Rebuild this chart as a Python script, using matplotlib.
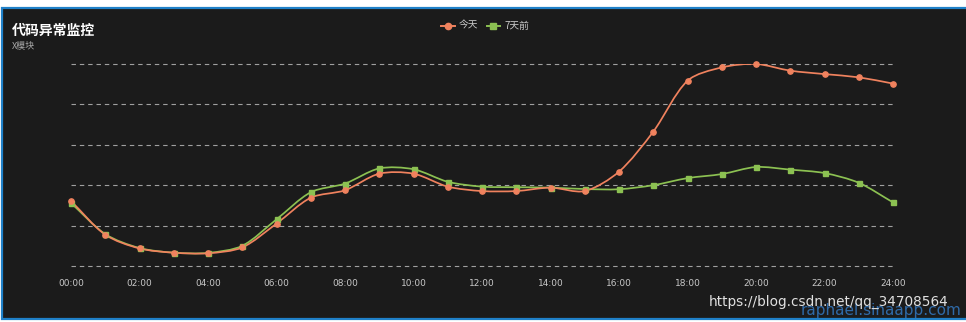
import numpy as np
import matplotlib
matplotlib.use("Agg")
import matplotlib.pyplot as plt
from matplotlib.path import Path
from matplotlib.patches import PathPatch, Rectangle
from matplotlib.lines import Line2D

plt.rcParams['font.family'] = ['Noto Sans CJK SC', 'DejaVu Sans']

# hourly values (no y labels in the original, 0-100 scale)
hours = list(range(25))
tick_hours = list(range(0, 25, 2))
tick_labels = ["%02d:00" % h for h in tick_hours]
today = [32.2, 15.5, 8.7, 6.6, 6.3, 9.2, 21.0, 33.8, 37.5, 45.7, 45.7, 39.3, 37.1,
         37.1, 38.8, 37.1, 46.7, 66.5, 91.7, 98.3, 100.0, 96.7, 95.0, 93.4, 90.3]
week_ago = [31.2, 15.8, 8.9, 6.6, 6.5, 10.0, 23.1, 36.5, 40.8, 48.3, 47.9, 41.7, 39.3,
            39.0, 38.8, 38.1, 38.0, 40.0, 43.5, 45.5, 49.0, 47.7, 46.0, 41.2, 31.5]
series_names = ["今天", "7天前"]

BG = "#1b1b1b"
RED = "#f0825e"
GREEN = "#8cc152"


def smooth_path(x, y, sx, sy, smooth=0.3):
    # bezier through the points, control points like echarts' smooth line
    px = np.asarray(x, float) * sx
    py = np.asarray(y, float) * sy
    n = len(px)
    verts = [(x[0], y[0])]
    codes = [Path.MOVETO]
    for i in range(n - 1):
        c = []
        for j, sign in ((i, 1), (i + 1, -1)):
            prev = max(j - 1, 0)
            nxt = min(j + 1, n - 1)
            vx, vy = px[nxt] - px[prev], py[nxt] - py[prev]
            d0 = np.hypot(px[j] - px[prev], py[j] - py[prev])
            d1 = np.hypot(px[nxt] - px[j], py[nxt] - py[j])
            if sign == 1:
                r = d1 / (d0 + d1) if d0 + d1 else 0
            else:
                r = d0 / (d0 + d1) if d0 + d1 else 0
            cx = px[j] + sign * vx * smooth * r
            cy = py[j] + sign * vy * smooth * r
            c.append((cx / sx, cy / sy))
        verts += [c[0], c[1], (x[i + 1], y[i + 1])]
        codes += [Path.CURVE4] * 3
    return Path(verts, codes)


fig = plt.figure(figsize=(9.66, 3.22), dpi=100, facecolor="white")

# dark panel with the blue border
fig.patches.append(Rectangle((1.5 / 966, 3.5 / 322), 1.2, 310.5 / 322,
                             transform=fig.transFigure, facecolor=BG,
                             edgecolor="#1f80c8", linewidth=1.6, zorder=-10))

ax = fig.add_axes([71 / 966, 1 - 266 / 322, 822 / 966, 202 / 322])
ax.set_zorder(2)
ax.set_facecolor("none")
ax.set_xlim(0, 24)
ax.set_ylim(0, 100)
for s in ax.spines.values():
    s.set_visible(False)
ax.set_yticks([])
for gy in range(0, 101, 20):
    ax.axhline(gy, color="#a0a0a0", lw=0.8, ls=(0, (4, 3.5)), zorder=1, clip_on=False)
ax.set_xticks(tick_hours)
ax.set_xticklabels(tick_labels, fontsize=6.5, color="#c8c8c8", family="DejaVu Sans")
ax.tick_params(axis="x", length=0, pad=9)

sx, sy = 822 / 24, 202 / 100
for vals, col, mk, ms in ((week_ago, GREEN, "s", 3.6), (today, RED, "o", 3.8)):
    ax.add_patch(PathPatch(smooth_path(hours, vals, sx, sy), fill=False,
                           edgecolor=col, lw=1.25, zorder=3))
    ax.plot(hours, vals, ls="none", marker=mk, ms=ms, color=col, zorder=4, clip_on=False)

fig.text(12 / 966, 1 - 31 / 322, "代码异常监控", fontsize=10, fontweight="bold",
         color="white", va="center", ha="left")
fig.text(12 / 966, 1 - 47 / 322, "X模块", fontsize=6.5, color="#aaaaaa",
         va="center", ha="left")

handles = [Line2D([], [], color=RED, marker="o", ms=4.5, lw=1.4),
           Line2D([], [], color=GREEN, marker="s", ms=4.2, lw=1.4)]
fig.legend(handles, series_names, loc="center", bbox_to_anchor=(485 / 966, 1 - 26 / 322),
           ncol=2, frameon=False, fontsize=7, labelcolor="#cccccc",
           handlelength=1.4, handletextpad=0.4, columnspacing=0.9)

fig.text(948 / 966, 1 - 302 / 322, "https://blog.csdn.net/qq_34708564", fontsize=9.8,
         color="#e0e0e0", ha="right", va="center", family="DejaVu Sans", zorder=6)
fig.text(962 / 966, 1 - 311 / 322, "raphael.sinaapp.com", fontsize=11,
         color="#2f6aa8", ha="right", va="center", family="DejaVu Sans", zorder=5)

fig.savefig("out.png", dpi=100, facecolor="white")
